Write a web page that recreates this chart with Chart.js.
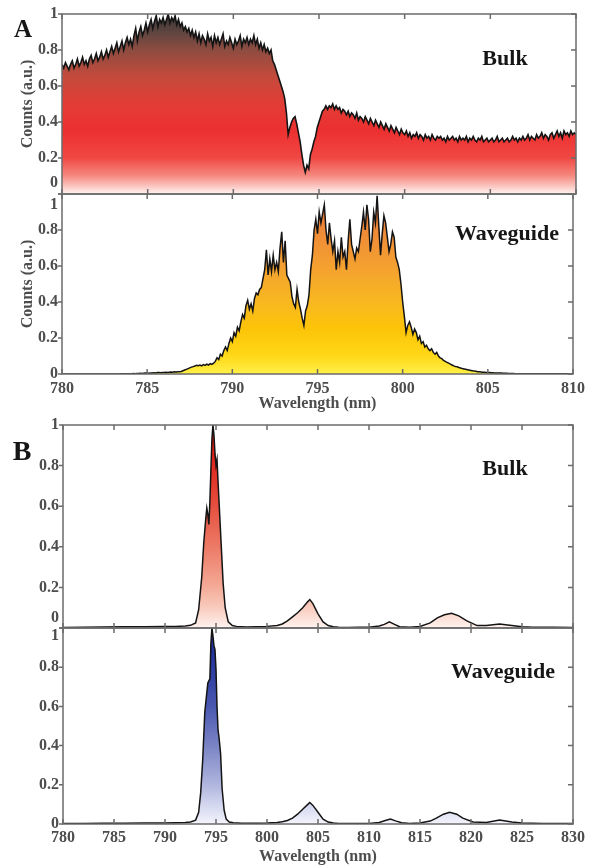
<!DOCTYPE html>
<html>
<head>
<meta charset="utf-8">
<script src="https://cdn.jsdelivr.net/npm/chart.js@4.4.1/dist/chart.umd.min.js"></script>
<style>
  html, body { margin: 0; padding: 0; background: #fff; }
  #page { position: relative; width: 590px; height: 867px; overflow: hidden; }
  #page canvas { position: absolute; left: 0; top: 0; }
  .lbl { position: absolute; font-family: "Liberation Serif", "Times New Roman", serif; font-weight: bold;
         color: #161616; transform: translate(-50%, -50%); white-space: nowrap; line-height: 1; }
</style>
</head>
<body>
<div id="page">
  <canvas id="bulkA" width="590" height="867"></canvas>
  <canvas id="guideA" width="590" height="867"></canvas>
  <canvas id="bulkB" width="590" height="867"></canvas>
  <canvas id="guideB" width="590" height="867"></canvas>

  <div class="lbl" style="left:23px;top:28px;font-size:25px">A</div>
  <div class="lbl" style="left:22px;top:451px;font-size:28px">B</div>
  <div class="lbl" style="left:505px;top:58px;font-size:22px">Bulk</div>
  <div class="lbl" style="left:507px;top:233px;font-size:22px">Waveguide</div>
  <div class="lbl" style="left:505px;top:468px;font-size:22px">Bulk</div>
  <div class="lbl" style="left:503px;top:671px;font-size:22px">Waveguide</div>
</div>

<script>
// ---- data --------------------------------------------------------------

// panel A: spectra sampled every 0.1 nm from 780 nm to 810 nm
const wlStartA = 780;
const wlStepA = 0.1;

const bulkACounts = [
  0.72, 0.70, 0.73, 0.71, 0.69, 0.72, 0.74, 0.70, 0.72, 0.75,
  0.71, 0.73, 0.76, 0.72, 0.74, 0.71, 0.75, 0.77, 0.73, 0.75,
  0.78, 0.74, 0.76, 0.79, 0.75, 0.77, 0.80, 0.76, 0.79, 0.82,
  0.78, 0.81, 0.84, 0.79, 0.82, 0.85, 0.80, 0.84, 0.87, 0.83,
  0.86, 0.82, 0.88, 0.92, 0.85, 0.90, 0.93, 0.88, 0.91, 0.95,
  0.90, 0.94, 0.97, 0.92, 0.96, 0.99, 0.93, 0.97, 0.95, 0.98,
  0.94, 0.97, 1.00, 0.95, 0.98, 0.96, 0.99, 0.94, 0.97, 0.93,
  0.95, 0.91, 0.93, 0.90, 0.92, 0.88, 0.91, 0.87, 0.90, 0.85,
  0.89, 0.84, 0.88, 0.86, 0.83, 0.89, 0.85, 0.87, 0.82, 0.88,
  0.84, 0.87, 0.83, 0.86, 0.89, 0.82, 0.85, 0.83, 0.87, 0.84,
  0.81, 0.86, 0.83, 0.85, 0.88, 0.82, 0.86, 0.84, 0.87, 0.83,
  0.86, 0.84, 0.88, 0.83, 0.86, 0.81, 0.84, 0.80, 0.83, 0.79,
  0.81, 0.78, 0.80, 0.74, 0.72, 0.69, 0.66, 0.63, 0.60, 0.57,
  0.53, 0.45, 0.33, 0.37, 0.40, 0.42, 0.43, 0.39, 0.34, 0.29,
  0.22, 0.16, 0.12, 0.16, 0.14, 0.22, 0.25, 0.29, 0.32, 0.37,
  0.40, 0.43, 0.46, 0.47, 0.49, 0.47, 0.49, 0.48, 0.50, 0.47,
  0.49, 0.47, 0.48, 0.45, 0.47, 0.46, 0.44, 0.46, 0.43, 0.45,
  0.44, 0.42, 0.45, 0.41, 0.43, 0.42, 0.40, 0.43, 0.41, 0.39,
  0.42, 0.40, 0.38, 0.41, 0.39, 0.37, 0.40, 0.38, 0.36, 0.39,
  0.37, 0.35, 0.38, 0.36, 0.34, 0.37, 0.35, 0.33, 0.36, 0.34,
  0.33, 0.35, 0.32, 0.34, 0.31, 0.33, 0.32, 0.34, 0.31, 0.33,
  0.32, 0.30, 0.33, 0.31, 0.32, 0.30, 0.33, 0.31, 0.30, 0.32,
  0.31, 0.32, 0.30, 0.31, 0.29, 0.32, 0.30, 0.31, 0.32, 0.30,
  0.31, 0.29, 0.32, 0.30, 0.31, 0.30, 0.32, 0.29, 0.31, 0.30,
  0.32, 0.30, 0.29, 0.31, 0.30, 0.32, 0.29, 0.30, 0.31, 0.29,
  0.30, 0.31, 0.29, 0.30, 0.32, 0.29, 0.30, 0.31, 0.29, 0.30,
  0.31, 0.29, 0.30, 0.32, 0.30, 0.31, 0.29, 0.31, 0.30, 0.32,
  0.30, 0.31, 0.33, 0.30, 0.32, 0.31, 0.30, 0.33, 0.31, 0.32,
  0.34, 0.31, 0.33, 0.32, 0.30, 0.33, 0.34, 0.31, 0.33, 0.35,
  0.32, 0.34, 0.31, 0.35, 0.33, 0.34, 0.32, 0.35, 0.33, 0.34,
  0.33
];

const guideACounts = [
  0, 0, 0, 0, 0, 0, 0, 0, 0, 0,
  0, 0, 0, 0, 0, 0, 0, 0, 0, 0,
  0, 0, 0, 0, 0, 0, 0, 0, 0, 0,
  0, 0, 0, 0, 0, 0.001, 0.001, 0.001, 0.001, 0.002,
  0.002, 0.002, 0.003, 0.002, 0.003, 0.003, 0.004, 0.003, 0.004, 0.005,
  0.005, 0.004, 0.006, 0.006, 0.007, 0.006, 0.008, 0.008, 0.007, 0.009,
  0.009, 0.010, 0.008, 0.010, 0.011, 0.010, 0.012, 0.011, 0.013, 0.012,
  0.014, 0.018, 0.022, 0.026, 0.030, 0.034, 0.038, 0.041, 0.044, 0.048,
  0.046, 0.050, 0.045, 0.052, 0.048, 0.055, 0.050, 0.058, 0.053, 0.060,
  0.07, 0.09, 0.08, 0.11, 0.10, 0.13, 0.15, 0.13, 0.17, 0.20,
  0.18, 0.23, 0.21, 0.26, 0.24, 0.29, 0.33, 0.31, 0.38, 0.41,
  0.36, 0.39, 0.35, 0.42, 0.45, 0.44, 0.47, 0.48, 0.53, 0.58,
  0.69, 0.55, 0.64, 0.57, 0.66, 0.58, 0.62, 0.57, 0.70, 0.79,
  0.62, 0.74, 0.55, 0.53, 0.51, 0.43, 0.39, 0.37, 0.47, 0.40,
  0.36, 0.31, 0.27, 0.35, 0.38, 0.44, 0.58, 0.66, 0.80, 0.86,
  0.78, 0.90, 0.84, 0.89, 0.94, 0.80, 0.72, 0.84, 0.75, 0.68,
  0.74, 0.58, 0.68, 0.62, 0.76, 0.65, 0.68, 0.58, 0.74, 0.86,
  0.72, 0.68, 0.64, 0.70, 0.68, 0.75, 0.82, 0.90, 0.80, 0.94,
  0.86, 0.68, 0.75, 0.90, 0.84, 0.99, 0.82, 0.66, 0.78, 0.88,
  0.84, 0.76, 0.68, 0.72, 0.79, 0.76, 0.65, 0.62, 0.58, 0.50,
  0.40, 0.32, 0.23, 0.27, 0.29, 0.26, 0.22, 0.25, 0.23, 0.19,
  0.21, 0.17, 0.18, 0.15, 0.16, 0.14, 0.13, 0.14, 0.12, 0.11,
  0.12, 0.10, 0.09, 0.085, 0.075, 0.07, 0.065, 0.06, 0.055, 0.05,
  0.045, 0.042, 0.04, 0.036, 0.033, 0.03, 0.028, 0.026, 0.024, 0.022,
  0.02, 0.018, 0.016, 0.015, 0.013, 0.012, 0.011, 0.010, 0.010, 0.009,
  0.008, 0.008, 0.007, 0.007, 0.006, 0.006, 0.005, 0.005, 0.005, 0.004,
  0.004, 0.004, 0.003, 0.003, 0.003, 0.003, 0.002, 0.002, 0.002, 0.002,
  0.002, 0.002, 0.002, 0.002, 0.002, 0.002, 0.002, 0.002, 0.002, 0.002,
  0.002, 0.002, 0.001, 0.001, 0.001, 0.001, 0.001, 0.001, 0.001, 0.001,
  0.001, 0.001, 0.001, 0.001, 0.001, 0.001, 0.001, 0.001, 0.001, 0.001,
  0.001
];

// panel B: wavelengths (nm) and counts, denser sampling around the peaks
const bulkBWl = [
  780, 782, 784, 786, 788, 790, 791, 792, 792.5, 793,
  793.3, 793.6, 793.8, 794.0, 794.1, 794.2, 794.3, 794.4, 794.5, 794.6,
  794.7, 794.8, 794.9, 795.0, 795.1, 795.2, 795.3, 795.5, 795.7, 795.9,
  796.2, 796.6, 797, 798, 799, 800, 801, 801.5, 802, 802.5,
  803, 803.5, 804, 804.2, 804.5, 805, 805.5, 806, 806.5, 807,
  808, 809, 810, 811, 811.5, 812, 812.5, 813, 814, 815,
  816, 816.7, 817.4, 818.1, 818.8, 819.6, 820.6, 821.5, 822.8, 824,
  825, 826, 828, 830
];
const bulkBCounts = [
  0.003, 0.004, 0.005, 0.006, 0.006, 0.007, 0.008, 0.010, 0.013, 0.025,
  0.09, 0.25, 0.42, 0.54, 0.59, 0.56, 0.51, 0.62, 0.78, 0.93,
  1.00, 0.95, 0.86, 0.80, 0.83, 0.72, 0.62, 0.42, 0.22, 0.10,
  0.03, 0.012, 0.008, 0.005, 0.006, 0.008, 0.012, 0.02, 0.035, 0.055,
  0.075, 0.10, 0.13, 0.14, 0.12, 0.07, 0.03, 0.012, 0.006, 0.004,
  0.003, 0.004, 0.004, 0.01, 0.018, 0.03, 0.018, 0.006, 0.004, 0.007,
  0.025, 0.05, 0.065, 0.072, 0.06, 0.035, 0.012, 0.012, 0.02, 0.012,
  0.006, 0.004, 0.004, 0.003
];

const guideBWl = [
  780, 782, 784, 786, 788, 790, 791, 792, 792.5, 793,
  793.3, 793.5, 793.7, 793.9, 794.1, 794.2, 794.3, 794.4, 794.5, 794.6,
  794.7, 794.8, 794.9, 795.0, 795.1, 795.2, 795.3, 795.45, 795.6, 795.8,
  796.0, 796.3, 796.7, 797.5, 799, 800, 801, 801.5, 802, 802.5,
  803, 803.5, 804, 804.2, 804.5, 805, 805.5, 806, 806.5, 807,
  808, 810, 811, 811.6, 812.1, 812.6, 813.2, 814, 815, 816,
  816.6, 817.3, 817.9, 818.6, 819.2, 820.2, 821.5, 822.8, 824, 825,
  827, 830
];
const guideBCounts = [
  0.003, 0.003, 0.004, 0.004, 0.005, 0.005, 0.006, 0.008, 0.010, 0.020,
  0.06, 0.16, 0.33, 0.57, 0.67, 0.72, 0.73, 0.74, 0.92, 1.00,
  0.96, 0.91, 0.89, 0.79, 0.60, 0.48, 0.44, 0.36, 0.18, 0.07,
  0.025, 0.010, 0.006, 0.004, 0.004, 0.005, 0.008, 0.012, 0.018, 0.030,
  0.05, 0.075, 0.10, 0.11, 0.095, 0.06, 0.025, 0.010, 0.005, 0.003,
  0.003, 0.003, 0.008, 0.018, 0.025, 0.016, 0.006, 0.003, 0.005, 0.015,
  0.03, 0.05, 0.06, 0.05, 0.03, 0.01, 0.008, 0.02, 0.01, 0.005,
  0.003, 0.003
];

// ---- styling -----------------------------------------------------------

const serif = '"Liberation Serif", "Times New Roman", serif';
const tickFont = { family: serif, size: 16, weight: 'bold' };
const tickColor = '#4d4d4d';
const frameColor = '#6b6b6b';

// gradient stops: [count value, colour]
const bulkAStops = [[1, '#383434'], [0.9, '#5e4540'], [0.8, '#8e4c40'], [0.65, '#c44a3c'],
  [0.5, '#e23c36'], [0.35, '#ec3030'], [0.2, '#f04844'], [0.1, '#f58a80'], [0, '#fff4f2']];
const guideAStops = [[1, '#e46838'], [0.8, '#ee8a38'], [0.6, '#f4a030'], [0.4, '#f8b820'],
  [0.25, '#fcc408'], [0.1, '#ffd818'], [0, '#fff048']];
const bulkBStops = [[1, '#dc1010'], [0.8, '#e02a20'], [0.6, '#e65040'], [0.4, '#ec7a66'],
  [0.2, '#f4ab98'], [0.1, '#f8cbbd'], [0, '#fff3ef']];
const guideBStops = [[1, '#1a2a9a'], [0.8, '#2a3aa0'], [0.6, '#4a58b0'], [0.4, '#7a84c4'],
  [0.2, '#b0b6de'], [0.1, '#d2d6ee'], [0, '#f4f4fc']];

function gradientFill(stops) {
  return (ctx) => {
    const chart = ctx.chart;
    if (!chart.chartArea) return null;
    const y = chart.scales.y;
    const g = chart.ctx.createLinearGradient(0, y.getPixelForValue(1), 0, y.getPixelForValue(0));
    stops.forEach(([v, c]) => g.addColorStop(1 - v, c));
    return g;
  };
}

// box, inward ticks and the shifted end labels where two panels touch
const framePlugin = {
  id: 'panelFrame',
  afterDraw(chart, args, opts) {
    const { ctx, chartArea: a, scales: { x, y } } = chart;
    ctx.save();
    ctx.strokeStyle = frameColor;
    ctx.lineWidth = 1.5;
    ctx.beginPath();
    x.ticks.forEach(t => {
      const px = x.getPixelForValue(t.value);
      ctx.moveTo(px, a.top); ctx.lineTo(px, a.top + 5);
      ctx.moveTo(px, a.bottom); ctx.lineTo(px, a.bottom - 5);
    });
    y.ticks.forEach(t => {
      const py = y.getPixelForValue(t.value);
      ctx.moveTo(a.right, py); ctx.lineTo(a.right - 5, py);
      ctx.moveTo(a.left, py); ctx.lineTo(a.left - 4, py);
    });
    ctx.stroke();
    ctx.strokeRect(a.left, a.top, a.right - a.left, a.bottom - a.top);

    ctx.font = `bold 16px ${serif}`;
    ctx.fillStyle = tickColor;
    ctx.textAlign = 'right';
    ctx.textBaseline = 'middle';
    if (opts.topShift) ctx.fillText('1', a.left - 4, a.top + opts.topShift);
    if (opts.bottomShift) ctx.fillText('0', a.left - 4, a.bottom - opts.bottomShift);
    ctx.restore();
  }
};

function makePanel(id, cfg) {
  const points = cfg.wl.map((w, i) => ({ x: w, y: cfg.counts[i] }));
  return new Chart(document.getElementById(id), {
    type: 'line',
    data: {
      datasets: [{
        data: points,
        borderColor: '#141414',
        borderWidth: cfg.lineWidth,
        pointRadius: 0,
        tension: 0,
        fill: 'origin',
        backgroundColor: gradientFill(cfg.stops)
      }]
    },
    options: {
      responsive: false,
      animation: false,
      events: [],
      layout: { padding: cfg.pad },
      plugins: {
        legend: { display: false },
        tooltip: { enabled: false },
        panelFrame: { topShift: cfg.topShift || 0, bottomShift: cfg.bottomShift || 0 }
      },
      scales: {
        x: {
          type: 'linear', min: cfg.xMin, max: cfg.xMax,
          grid: { display: false, drawTicks: false },
          border: { display: false },
          ticks: { display: cfg.xLabels, stepSize: 5, font: tickFont, color: tickColor,
                   padding: cfg.xPad || 0, maxRotation: 0, autoSkip: false },
          title: { display: cfg.xLabels, text: 'Wavelength (nm)', font: tickFont, color: tickColor, padding: 0 },
          afterFit: s => { s.height = cfg.xHeight; }
        },
        y: {
          min: 0, max: 1,
          grid: { display: false, drawTicks: false },
          border: { display: false },
          ticks: {
            stepSize: 0.2, font: tickFont, color: tickColor, padding: 4,
            callback: v => ((v === 1 && cfg.topShift) || (v === 0 && cfg.bottomShift)) ? '' : String(+v.toFixed(1))
          },
          title: { display: !!cfg.yTitle, text: 'Counts (a.u.)', font: tickFont, color: tickColor,
                   padding: { top: 18, bottom: 0 } },
          afterFit: s => { s.width = cfg.left; }
        }
      }
    },
    plugins: [framePlugin]
  });
}

const wlA = bulkACounts.map((_, i) => +(wlStartA + i * wlStepA).toFixed(1));

makePanel('bulkA', {
  wl: wlA, counts: bulkACounts, stops: bulkAStops, xMin: 780, xMax: 810, lineWidth: 1.6,
  left: 62, pad: { top: 14, bottom: 867 - 194, left: 0, right: 14 },
  xLabels: false, xHeight: 0, yTitle: true, bottomShift: 11
});
makePanel('guideA', {
  wl: wlA, counts: guideACounts, stops: guideAStops, xMin: 780, xMax: 810, lineWidth: 1.5,
  left: 62, pad: { top: 194, bottom: 867 - 374 - 39.6, left: 0, right: 14 },
  xLabels: true, xHeight: 39.6, xPad: 5, yTitle: true, topShift: 11
});
makePanel('bulkB', {
  wl: bulkBWl, counts: bulkBCounts, stops: bulkBStops, xMin: 780, xMax: 830, lineWidth: 1.5,
  left: 63, pad: { top: 425, bottom: 867 - 628, left: 0, right: 17 },
  xLabels: false, xHeight: 0, yTitle: false, bottomShift: 10
});
makePanel('guideB', {
  wl: guideBWl, counts: guideBCounts, stops: guideBStops, xMin: 780, xMax: 830, lineWidth: 1.5,
  left: 63, pad: { top: 628, bottom: 867 - 824 - 42.6, left: 0, right: 17 },
  xLabels: true, xHeight: 42.6, xPad: 4, yTitle: false, topShift: 8
});
</script>
</body>
</html>
